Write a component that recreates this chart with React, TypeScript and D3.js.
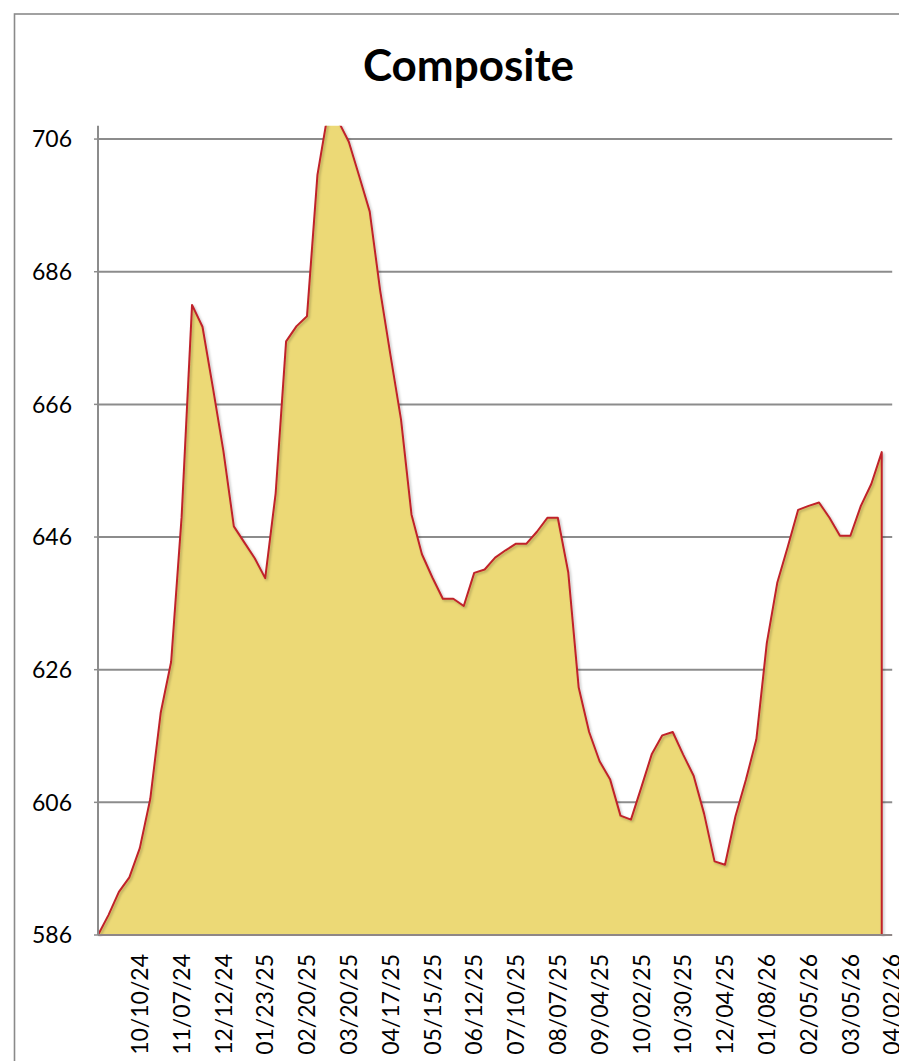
import React from "react";
import * as d3 from "d3";

const title = "Composite";
const values: number[] = [
  586.0, 589.0, 592.5, 594.7, 599.1, 606.5, 619.5, 627.2, 649.0, 681.0,
  677.7, 668.5, 659.0, 647.6, 645.2, 642.8, 639.8, 652.6, 675.5, 677.8,
  679.3, 700.6, 709.9, 708.7, 705.6, 700.4, 695.1, 683.2, 673.3, 663.7,
  649.4, 643.4, 639.9, 636.7, 636.7, 635.6, 640.6, 641.1, 642.9, 644.0,
  645.0, 645.0, 646.8, 648.9, 648.9, 640.7, 623.3, 616.6, 612.2, 609.5,
  604.0, 603.4, 608.3, 613.3, 616.1, 616.6, 613.2, 610.0, 604.3, 597.1,
  596.6, 603.9, 609.4, 615.5, 630.0, 639.1, 644.5, 650.1, 650.7, 651.2,
  648.9, 646.2, 646.2, 650.7, 654.0, 658.8,
];
const tickLabels: string[] = [
  "10/10/24", "11/07/24", "12/12/24", "01/23/25", "02/20/25", "03/20/25",
  "04/17/25", "05/15/25", "06/12/25", "07/10/25", "08/07/25", "09/04/25",
  "10/02/25", "10/30/25", "12/04/25", "01/08/26", "02/05/26", "03/05/26",
  "04/02/26",
];
const yTicks: number[] = [586, 606, 626, 646, 666, 686, 706];
const categoryCount = 77;
const labelEvery = 4;
const yMin = 586;
const yMax = 708;

export default function App() {
  const W = 899;
  const H = 1061;
  const left = 98;
  const right = 892.2;
  const bottom = 935;
  const top = 125.8;

  const x = d3.scaleLinear().domain([0, categoryCount - 1]).range([left, right]);
  const y = d3.scaleLinear().domain([yMin, yMax]).range([bottom, top]);

  const areaGen = d3
    .area<number>()
    .x((_, i) => x(i))
    .y0(bottom)
    .y1((d) => y(d));
  const lastI = values.length - 1;
  const linePts: [number, number][] = values.map((d, i) => [x(i), y(d)]);
  linePts.push([x(lastI), bottom]);
  const lineGen = d3.line();

  const font = "Lato, 'Open Sans', sans-serif";

  return (
    <svg
      width={W}
      height={H}
      style={{ position: "absolute", left: 0, top: 0, background: "#fff" }}
    >
      <defs>
        <clipPath id="plotClip">
          <rect x={left - 2} y={top} width={right - left + 10} height={bottom - top + 2} />
        </clipPath>
        <filter id="shadow" x="-5%" y="-5%" width="110%" height="110%">
          <feDropShadow dx="1.5" dy="1.5" stdDeviation="1" floodColor="#000" floodOpacity="0.25" />
        </filter>
      </defs>
      <rect x={0} y={0} width={W} height={H} fill="#fff" />
      <rect x={14.5} y={14} width={W + 20} height={H + 20} fill="none" stroke="#8a8a8a" strokeWidth={1.6} />

      <text
        x={468.5}
        y={81}
        textAnchor="middle"
        fontFamily={font}
        fontWeight={700}
        fontSize={44}
        fill="#000"
      >
        {title}
      </text>

      {yTicks.map((t) => (
        <g key={t}>
          {t !== yMin && (
            <line x1={left} x2={right} y1={y(t)} y2={y(t)} stroke="#8c8c8c" strokeWidth={2} />
          )}
          <line x1={left - 4} x2={left} y1={y(t)} y2={y(t)} stroke="#8c8c8c" strokeWidth={1.5} />
          <text
            x={72}
            y={y(t)}
            dy="0.36em"
            textAnchor="end"
            fontFamily={font}
            fontSize={23}
            fill="#000"
          >
            {t}
          </text>
        </g>
      ))}

      <g clipPath="url(#plotClip)">
        <path d={areaGen(values) || ""} fill="#ECD976" />
        <path
          d={lineGen(linePts) || ""}
          fill="none"
          stroke="#C0232A"
          strokeWidth={2}
          strokeLinejoin="round"
          filter="url(#shadow)"
        />
      </g>

      <line x1={left} x2={left} y1={top} y2={bottom} stroke="#8c8c8c" strokeWidth={2} />
      <line x1={left} x2={right} y1={bottom} y2={bottom} stroke="#8f8787" strokeWidth={2} />

      {tickLabels.map((lab, i) => {
        const xi = x(labelEvery + i * labelEvery);
        return (
          <text
            key={lab}
            transform={`translate(${xi},954) rotate(-90)`}
            dy="0.36em"
            textAnchor="end"
            fontFamily={font}
            fontSize={23}
            fill="#000"
          >
            {lab}
          </text>
        );
      })}
    </svg>
  );
}
